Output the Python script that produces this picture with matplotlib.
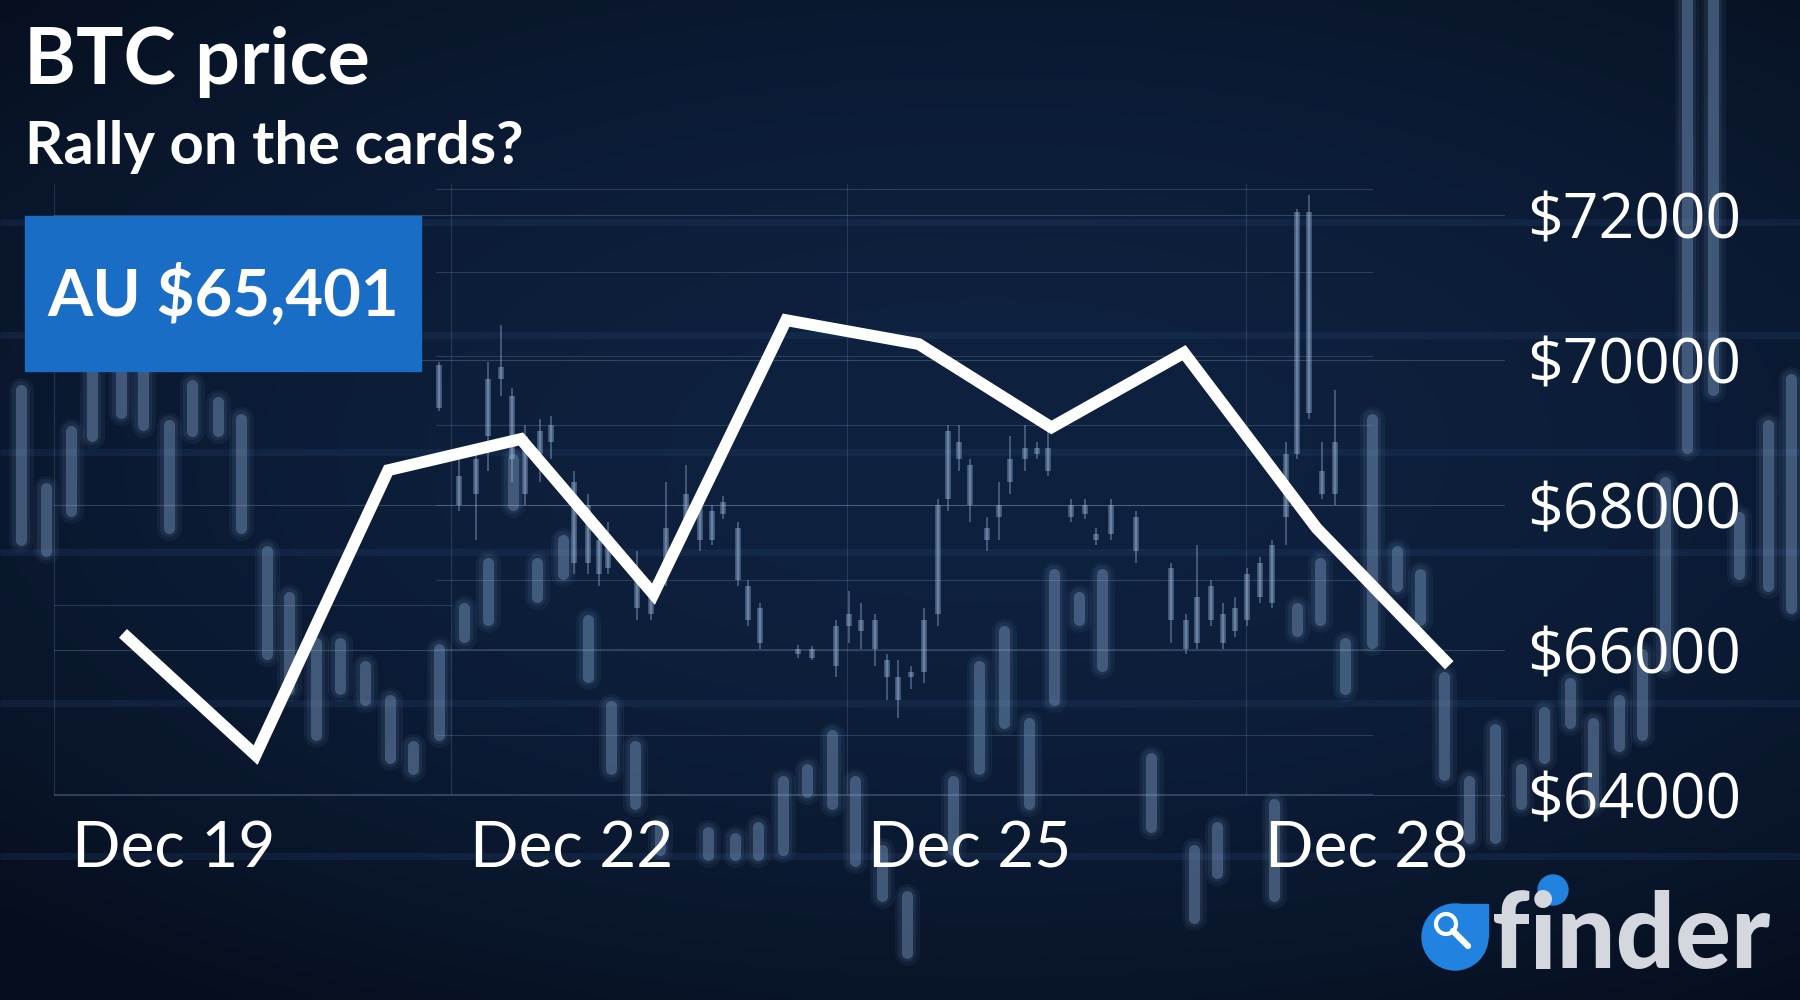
import matplotlib
matplotlib.use('Agg')
import matplotlib.pyplot as plt
import numpy as np
from matplotlib.patches import Rectangle, Circle

# main series (BTC price, AUD)
days = [18.62, 19.62, 20.62, 21.62, 22.62, 23.62, 24.62, 25.62, 26.62, 27.62, 28.62]
prices = [66230, 64550, 68480, 68910, 66770, 70550, 70220, 69070, 70100, 67680, 65790]

day_ticks = [19, 22, 25, 28]
day_labels = ['Dec 19', 'Dec 22', 'Dec 25', 'Dec 28']
price_ticks = [64000, 66000, 68000, 70000, 72000]
price_labels = ['$64000', '$66000', '$68000', '$70000', '$72000']

title = 'BTC price'
subtitle = 'Rally on the cards?'
current = 'AU $65,401'

# background photo: blurry candles (x, body top, body bottom) in picture units
big_x = [18, 40, 62, 80, 105, 125, 147, 167, 190, 210, 233, 252, 275, 296, 318, 340, 360, 382,
         404, 425, 447, 468, 490, 512, 532, 553, 575, 617, 640, 660, 682, 703, 725, 745, 768, 790,
         830, 853, 875, 896, 918, 940, 960, 1003, 1040, 1060, 1110, 1130, 1150, 1172, 1195, 1217,
         1237, 1258, 1280, 1302, 1325, 1345, 1368, 1388, 1410, 1430, 1450, 1470, 1492, 1515, 1540, 1560]
big_top = [340, 425, 375, 300, 290, 290, 370, 335, 350, 365, 480, 520, 560, 560, 580, 610, 650, 565,
           530, 490, 400, 490, 470, 540, 615, 650, 720, 725, 730, 720, 680, 670, 640, 680, 740, 780,
           680, 580, 550, 630, 500, 520, 500, 660, 740, 720, 700, 530, 490, 560, 365, 480,
           500, 590, 680, 635, 670, 620, 595, 630, 610, 570, 420, 0, 0, 450, 370, 330]
big_bot = [470, 480, 445, 380, 360, 370, 460, 375, 375, 460, 570, 600, 640, 600, 610, 660, 670, 640,
           555, 540, 440, 520, 500, 590, 670, 700, 740, 745, 745, 745, 740, 690, 700, 750, 780, 830,
           740, 670, 630, 700, 610, 540, 580, 720, 800, 760, 780, 550, 540, 600, 560, 510,
           540, 675, 730, 730, 700, 660, 630, 700, 650, 640, 580, 390, 340, 500, 510, 530]

# background photo: small sharp candles (x, body top, body bottom, wick top, wick bottom)
small_x = [382, 400, 415, 425, 436, 446, 457, 470, 480, 500, 512, 522, 530, 555, 567, 580, 598, 610,
           620, 630, 643, 652, 662, 695, 707, 728, 740, 750, 762, 773, 782, 794, 805, 817, 826, 835,
           845, 860, 870, 880, 893, 903, 913, 933, 945, 955, 968, 990, 1020, 1033, 1043, 1055, 1065,
           1076, 1086, 1098, 1108, 1120, 1130, 1140, 1152, 1163]
small_top = [318, 415, 400, 330, 320, 345, 380, 375, 370, 420, 440, 470, 475, 500, 520, 460, 430, 440,
             445, 437, 460, 510, 530, 565, 565, 545, 535, 540, 540, 575, 590, 585, 540, 440, 375, 385,
             405, 460, 440, 400, 390, 390, 390, 440, 440, 465, 440, 450, 495, 540, 520, 510, 535,
             530, 500, 490, 475, 395, 185, 185, 410, 385]
small_bot = [355, 440, 430, 380, 330, 400, 430, 395, 385, 490, 490, 500, 495, 530, 535, 500, 460, 470,
             470, 448, 505, 540, 560, 570, 573, 580, 545, 550, 565, 590, 610, 590, 585, 535, 435, 400,
             440, 470, 450, 420, 400, 395, 410, 450, 448, 470, 465, 480, 540, 565, 560, 540, 560,
             550, 540, 520, 525, 450, 395, 360, 430, 430]
small_hi = [315, 400, 390, 315, 283, 338, 370, 365, 362, 410, 430, 460, 455, 480, 510, 420, 405, 430,
            440, 432, 455, 505, 525, 562, 563, 540, 515, 525, 535, 570, 575, 580, 530, 435, 370, 370,
            400, 450, 420, 380, 370, 385, 370, 435, 435, 460, 435, 445, 490, 535, 475, 505, 525,
            520, 495, 485, 470, 385, 182, 170, 385, 340]
small_lo = [358, 445, 470, 410, 345, 420, 440, 420, 400, 500, 500, 510, 500, 540, 540, 510, 470, 480,
            475, 452, 510, 545, 565, 573, 575, 590, 560, 565, 580, 610, 625, 600, 595, 545, 445, 410,
            455, 480, 470, 430, 410, 400, 415, 455, 452, 475, 470, 490, 560, 570, 565, 545, 565,
            555, 545, 525, 530, 475, 400, 365, 435, 440]

# thin grid of the background photo
photo_grid_y = [165, 237, 310, 370, 440, 505, 565, 640]
photo_grid_x = [47, 393, 738, 1085]
photo_bands_y = [193, 292, 394, 481, 612, 746]

fig = plt.figure(figsize=(18, 10), dpi=100)
fig.patch.set_facecolor('#0a1830')

# background
bg = fig.add_axes([0, 0, 1, 1], zorder=0)
yy, xx = np.mgrid[0:1:120j, 0:1:220j]
shade = np.clip(1 - ((xx - 0.55) ** 2 * 1.6 + (yy - 0.45) ** 2 * 2.2), 0, 1)
dark = np.array([6, 14, 29]) / 255
light = np.array([14, 33, 63]) / 255
glow = dark + (light - dark) * shade[..., None]
bg.imshow(glow, extent=[0, 1568, 871, 0], aspect='auto', interpolation='bicubic')
for y in photo_bands_y:
    bg.plot([0, 1568], [y, y], color='#2a4a78', lw=5, alpha=0.22, solid_capstyle='butt')
for y in photo_grid_y:
    bg.plot([380, 1195], [y, y], color='#6d8bb3', lw=0.8, alpha=0.3)
bg.plot([47, 1195], [692, 692], color='#6d8bb3', lw=0.8, alpha=0.35)
bg.plot([47, 393], [527, 527], color='#6d8bb3', lw=0.8, alpha=0.3)
for x in photo_grid_x:
    bg.plot([x, x], [160, 692], color='#6d8bb3', lw=0.8, alpha=0.25)
bg.vlines(big_x, big_top, big_bot, color='#7d9dc6', lw=18, alpha=0.07, capstyle='round')
bg.vlines(big_x, big_top, big_bot, color='#7d9dc6', lw=13, alpha=0.10, capstyle='round')
bg.vlines(big_x, big_top, big_bot, color='#87a8d1', lw=8, alpha=0.35, capstyle='round')
bg.vlines(small_x, small_hi, small_lo, color='#9ab6da', lw=1.2, alpha=0.45)
bg.vlines(small_x, small_top, small_bot, color='#9ab6da', lw=4, alpha=0.45)
bg.set_xlim(0, 1568)
bg.set_ylim(871, 0)
bg.axis('off')

# price chart
ax = fig.add_axes([0.03, 0.199, 0.8061, 0.651], zorder=2)
ax.patch.set_alpha(0)
ax.plot(days, prices, color='white', lw=8.5, solid_joinstyle='miter', solid_capstyle='butt')
ax.set_xlim(18.10, 29.04)
ax.set_ylim(63917, 72897)
ax.set_yticks(price_ticks, price_labels)
ax.yaxis.tick_right()
ax.tick_params(axis='y', length=0, pad=16, labelsize=45, labelcolor='white')
for lab in ax.get_yticklabels():
    lab.set_family('Open Sans')
ax.set_xticks(day_ticks, day_labels)
ax.tick_params(axis='x', length=0, pad=14, labelsize=46, labelcolor='white')
for lab in ax.get_xticklabels():
    lab.set_family('Lato')
ax.grid(axis='y', color='#a8bbd6', lw=0.8, alpha=0.25)
for s in ax.spines.values():
    s.set_visible(False)

# overlay in picture pixels: title, price box, logo
ov = fig.add_axes([0, 0, 1, 1], zorder=3)
ov.set_xlim(0, 1800)
ov.set_ylim(1000, 0)
ov.axis('off')
ov.patch.set_alpha(0)

ov.text(24, 84, title, ha='left', va='baseline', fontsize=57, weight='bold',
        family='Lato', color='white')
ov.text(25, 164, subtitle, ha='left', va='baseline', fontsize=43, weight='bold',
        family='Lato', color='white')

ov.add_patch(Rectangle((25, 216), 396, 155, color='#1a6dc5'))
ov.text(223, 316, current, ha='center', va='baseline', fontsize=47, weight='bold',
        family='Lato', color='white')

ov.add_patch(Circle((1455, 937), 33, color='#2282e0'))
ov.add_patch(Rectangle((1455, 904), 33, 33, color='#2282e0'))
ov.add_patch(Circle((1446, 924), 10, fill=False, ec='white', lw=3))
ov.plot([1453, 1468], [931, 946], color='white', lw=4.5, solid_capstyle='round')
ov.text(1492, 968, 'finder', ha='left', va='baseline', fontsize=75, weight='black',
        family='Lato', color='#d4d8de')
ov.add_patch(Circle((1553, 890), 15, color='#2282e0'))

fig.savefig('out.png', dpi=100)
